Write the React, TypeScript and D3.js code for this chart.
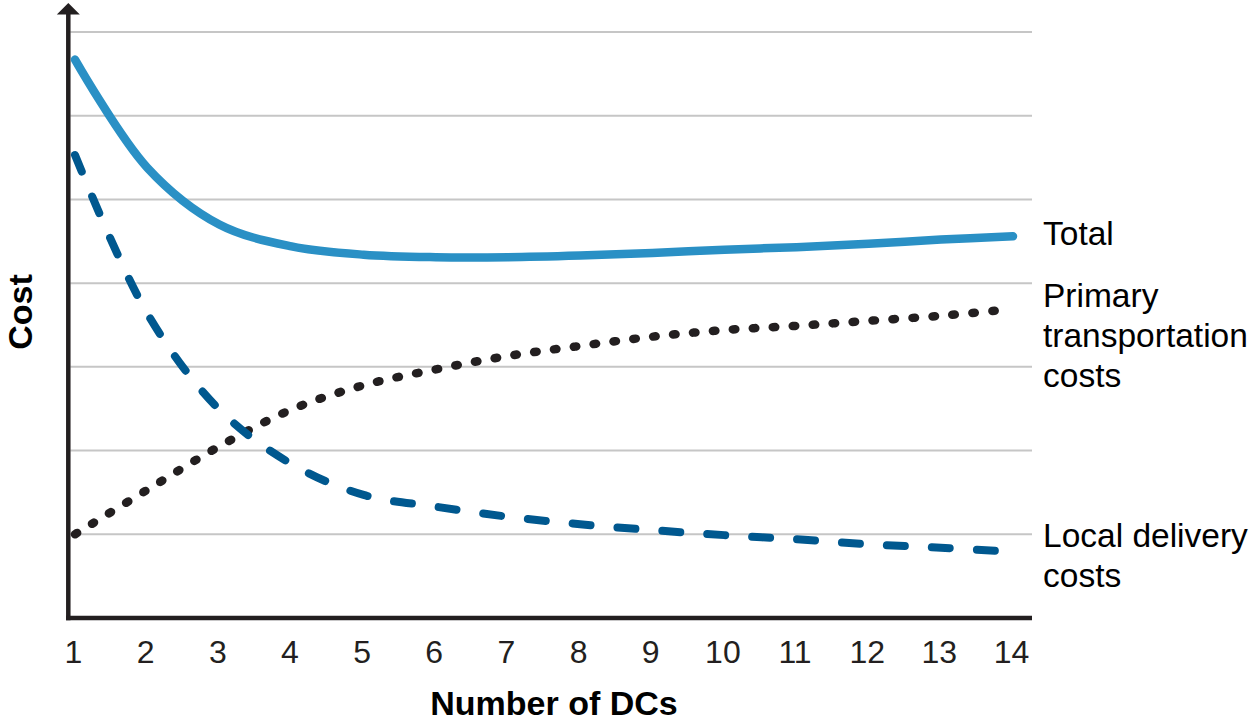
import React from "react";
import * as d3 from "d3";

const dcs = [1, 2, 3, 4, 5, 6, 7, 8, 9, 10, 11, 12, 13, 14];
const totalCost = [6.67, 5.38, 4.7, 4.44, 4.34, 4.31, 4.31, 4.33, 4.36, 4.4, 4.43, 4.47, 4.52, 4.56];
const localDelivery = [5.53, 3.64, 2.49, 1.84, 1.47, 1.33, 1.21, 1.12, 1.05, 0.99, 0.94, 0.88, 0.84, 0.79];
const primaryDCs = [1, 2, 3, 4, 5, 6, 7, 8, 9, 10, 11, 12, 13, 13.75];
const primaryTransport = [1.0, 1.53, 2.05, 2.49, 2.78, 2.97, 3.13, 3.25, 3.36, 3.44, 3.49, 3.55, 3.61, 3.67];
const gridValues = [1, 2, 3, 4, 5, 6, 7];

const W = 1250;
const H = 721;
const FONT = "'Liberation Sans', Arial, Helvetica, sans-serif";
const INK = "#231f20";

export default function App() {
  const x = d3.scaleLinear().domain([1, 14]).range([75, 1013]);
  const y = d3.scaleLinear().domain([0, 7]).range([618, 32]);
  const axisX = 68.3;
  const gridRight = 1032;

  const line = d3
    .line<[number, number]>()
    .x((d) => x(d[0]))
    .y((d) => y(d[1]))
    .curve(d3.curveCatmullRom.alpha(0.5));

  const totalPath = line(dcs.map((d, i) => [d, totalCost[i]]) as [number, number][]) || "";
  const localPath = line(dcs.map((d, i) => [d, localDelivery[i]]) as [number, number][]) || "";
  const primaryPath = line(primaryDCs.map((d, i) => [d, primaryTransport[i]]) as [number, number][]) || "";

  const labelX = 1043;
  const labelSize = 33.5;

  return (
    <svg
      width={W}
      height={H}
      style={{ position: "absolute", left: 0, top: 0, background: "#fff" }}
      fontFamily={FONT}
    >
      {/* gridlines */}
      {gridValues.map((g) => (
        <line key={g} x1={axisX + 2} x2={gridRight} y1={y(g)} y2={y(g)} stroke="#c6c6c6" strokeWidth={2} />
      ))}

      {/* axes */}
      <line x1={axisX} x2={axisX} y1={y(0) + 2.3} y2={12} stroke={INK} strokeWidth={4.5} />
      <line x1={axisX - 2.25} x2={gridRight} y1={y(0)} y2={y(0)} stroke={INK} strokeWidth={4.5} />
      <path d={`M${axisX},3 L${axisX + 11.5},14.5 L${axisX - 11.5},14.5 Z`} fill={INK} />

      {/* series */}
      <path d={primaryPath} fill="none" stroke={INK} strokeWidth={8.5} strokeLinecap="round" strokeDasharray="2.5 17.5" />
      <path d={localPath} fill="none" stroke="#00588f" strokeWidth={8} strokeLinecap="round" strokeDasharray="18 27" />
      <path d={totalPath} fill="none" stroke="#2a90c5" strokeWidth={8.5} strokeLinecap="round" />

      {/* tick labels */}
      {dcs.map((d) => (
        <text key={d} x={x(d) - 1.5} y={663} textAnchor="middle" fontSize={32} fill={INK}>
          {d}
        </text>
      ))}

      {/* axis titles */}
      <text x={554} y={715} textAnchor="middle" fontSize={34} fontWeight="bold" fill="#000">
        Number of DCs
      </text>
      <text
        transform={`translate(32,312) rotate(-90)`}
        textAnchor="middle"
        fontSize={34}
        fontWeight="bold"
        fill="#000"
      >
        Cost
      </text>

      {/* series labels */}
      <text x={labelX} y={245} fontSize={labelSize} fill="#000">Total</text>
      <text x={labelX} y={307} fontSize={labelSize} fill="#000">Primary</text>
      <text x={labelX} y={347} fontSize={labelSize} fill="#000">transportation</text>
      <text x={labelX} y={387} fontSize={labelSize} fill="#000">costs</text>
      <text x={labelX} y={547} fontSize={labelSize} fill="#000">Local delivery</text>
      <text x={labelX} y={587} fontSize={labelSize} fill="#000">costs</text>
    </svg>
  );
}
